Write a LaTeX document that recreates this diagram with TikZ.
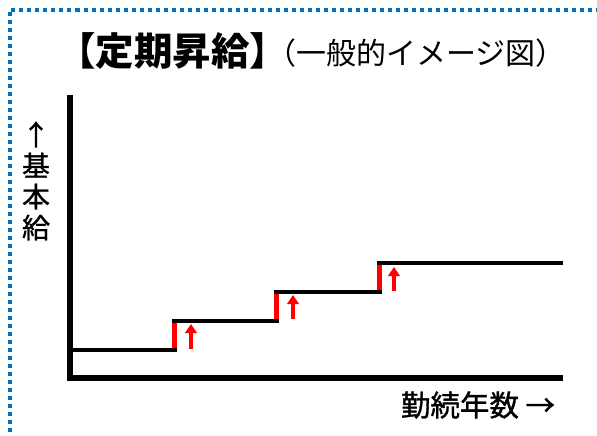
\documentclass[tikz,border=0pt]{standalone}
\usepackage{fontspec}
\newfontfamily\jp{Noto Sans CJK JP}
\newfontfamily\jpm[FakeBold=1]{Noto Sans CJK JP}
\usetikzlibrary{arrows.meta}
\definecolor{dotblue}{RGB}{0,112,192}
\definecolor{stepred}{RGB}{255,0,0}
\tikzset{
  axisline/.style={line width=5.5, line join=miter},
  stepline/.style={line width=4.5},
  riseline/.style={stepred, line width=4.7},
  risearrow/.style={stepred, line width=4.2, -{Triangle[width=11.5,length=9]}},
  border/.style={dotblue, line width=4, dash pattern=on 4 off 4},
  lbl/.style={inner sep=0}
}
\begin{document}
\begin{tikzpicture}[x=1pt,y=-1pt]
\useasboundingbox (0,0) rectangle (597,436);
\fill[white] (0,0) rectangle (597,436);
\draw[border] (9.5,440) -- (9.5,10) -- (600,10);

\node[lbl, anchor=base west, font=\jp\fontsize{38.5}{46}\selectfont\bfseries] (title) at (57,66)
  {【定期昇給】};
\node[lbl, anchor=base east, font=\jp\fontsize{30}{36}\selectfont] (sub) at (566,64)
  {（一般的イメージ図）};

\node[lbl, align=center, font=\jpm\fontsize{28}{31}\selectfont] (ylab) at (36,181)
  {↑\\基\\本\\給};
\node[lbl, font=\jpm\fontsize{29.5}{34}\selectfont] (xlab) at (478,405) {勤続年数 →};

% axes
\coordinate (ytop) at (70,95);
\coordinate (orig) at (70,378);
\coordinate (xend) at (563,378);
\draw[axisline] (ytop) -- (orig) -- (xend);

% steps
\coordinate (a0) at (70,350);  \coordinate (a1) at (176.5,350);
\coordinate (r1b) at (174.3,350); \coordinate (r1t) at (174.3,321);
\coordinate (b0) at (172,321); \coordinate (b1) at (278.5,321);
\coordinate (r2b) at (276.3,321); \coordinate (r2t) at (276.3,292);
\coordinate (c0) at (274,292); \coordinate (c1) at (381.5,292);
\coordinate (r3b) at (379.3,292); \coordinate (r3t) at (379.3,263);
\coordinate (d0) at (377,263); \coordinate (d1) at (563,263);

\draw[riseline] (r1b) -- (r1t);
\draw[riseline] (r2b) -- (r2t);
\draw[riseline] (r3b) -- (r3t);
\draw[stepline] (a0) -- (a1);
\draw[stepline] (b0) -- (b1);
\draw[stepline] (c0) -- (c1);
\draw[stepline] (d0) -- (d1);

% red arrows
\coordinate (u1b) at (191,349); \coordinate (u1t) at (191,324);
\coordinate (u2b) at (293,319); \coordinate (u2t) at (293,295);
\coordinate (u3b) at (394,291); \coordinate (u3t) at (394,267);
\draw[risearrow] (u1b) -- (u1t);
\draw[risearrow] (u2b) -- (u2t);
\draw[risearrow] (u3b) -- (u3t);
\end{tikzpicture}
\end{document}
